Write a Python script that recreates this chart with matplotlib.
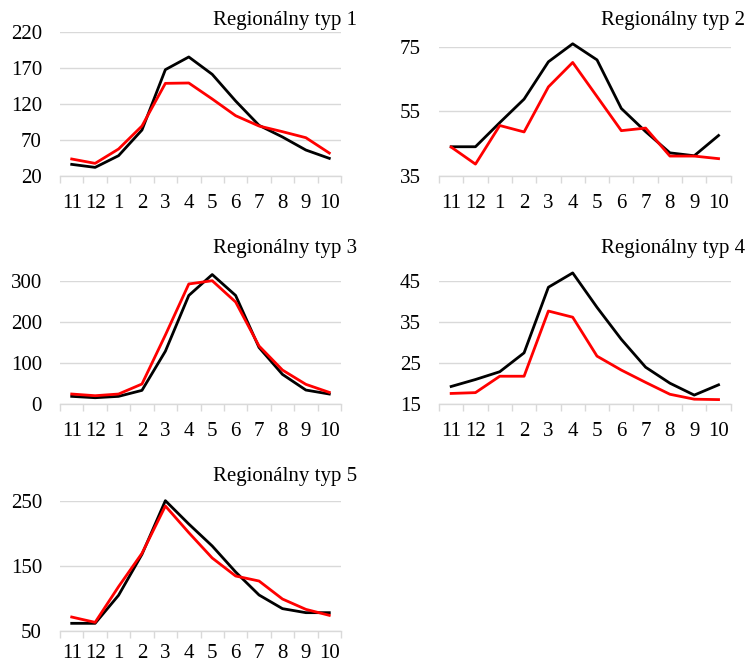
import matplotlib
matplotlib.use("Agg")
import matplotlib.pyplot as plt
import numpy as np

months = ["11", "12", "1", "2", "3", "4", "5", "6", "7", "8", "9", "10"]

titles = ["Regionálny typ 1", "Regionálny typ 2", "Regionálny typ 3",
          "Regionálny typ 4", "Regionálny typ 5"]

black_1 = [35.8, 31.6, 47.9, 83.7, 167.9, 185.6, 161.4, 124.2, 90.2, 74.0, 55.8, 44.2]
red_1 = [43.3, 37.2, 57.2, 89.3, 148.8, 149.3, 127.0, 103.7, 89.3, 81.4, 73.0, 51.6]

black_2 = [44.0, 44.0, 51.5, 58.8, 70.4, 76.0, 71.0, 55.9, 48.7, 42.1, 41.2, 47.5]
red_2 = [43.9, 38.6, 50.6, 48.6, 62.6, 70.2, 59.6, 49.0, 49.8, 41.1, 41.1, 40.3]

black_3 = [17.9, 14.6, 17.9, 32.5, 128, 264, 315, 264, 137, 71.5, 33.3, 23.6]
red_3 = [23.6, 19.5, 23.6, 48, 167.5, 292, 300, 248, 140.7, 82.1, 47.2, 27.6]

black_4 = [19.2, 20.9, 22.8, 27.4, 43.4, 46.9, 38.5, 30.7, 23.9, 20.0, 17.1, 19.6]
red_4 = [17.5, 17.7, 21.7, 21.7, 37.6, 36.1, 26.6, 23.2, 20.2, 17.3, 16.1, 16.0]

black_5 = [61.8, 61.8, 104.9, 167.9, 250.5, 214.6, 180.8, 140.8, 105.4, 84.4, 78.2, 78.2]
red_5 = [71.5, 63.3, 118.2, 169.5, 242.3, 201.3, 162.3, 134.6, 126.9, 99.2, 83.3, 74.1]

yticks_1 = [20, 70, 120, 170, 220]
yticks_2 = [35, 55, 75]
yticks_3 = [0, 100, 200, 300]
yticks_4 = [15, 25, 35, 45]
yticks_5 = [50, 150, 250]

series = [(black_1, red_1, yticks_1), (black_2, red_2, yticks_2),
          (black_3, red_3, yticks_3), (black_4, red_4, yticks_4),
          (black_5, red_5, yticks_5)]

W, H = 748, 665
fig = plt.figure(figsize=(W / 100, H / 100), dpi=100)
plt.rcParams['font.family'] = ['Liberation Serif', 'DejaVu Serif']

# axes boxes in pixels: left, right, top, bottom
boxes = [(60, 341, 32.3, 175.7),
         (439, 730.7, 47, 175.7),
         (60, 341, 280.7, 403.7),
         (439, 730.7, 280.7, 403.7),
         (60, 341, 501, 631)]
title_pos = [(357, 21), (745, 21), (357, 248), (745, 248), (357, 477)]
xpads = [13, 13, 13, 13, 9]

grid_c = "#d9d9d9"
for (blk, red, yt), (l, r, t, b), title, (tx, ty), xp in zip(series, boxes, titles, title_pos, xpads):
    ax = fig.add_axes([l / W, 1 - b / H, (r - l) / W, (b - t) / H])
    x = np.arange(len(months))
    ax.plot(x, blk, color="black", lw=2.0, clip_on=False, zorder=3)
    ax.plot(x, red, color="#ff0000", lw=2.0, clip_on=False, zorder=4)
    ax.set_xlim(-0.5, len(months) - 0.5)
    ax.set_ylim(yt[0], yt[-1])
    ax.set_yticks(yt)
    ax.set_yticklabels([str(v) for v in yt], fontsize=15)
    ax.set_xticks(x)
    ax.set_xticklabels(months, fontsize=15)
    ax.set_xticks(np.arange(len(months) + 1) - 0.5, minor=True)
    ax.tick_params(axis="x", which="major", length=0, pad=xp)
    ax.tick_params(axis="x", which="minor", length=5, color=grid_c, width=1)
    ax.tick_params(axis="y", length=0, pad=13)
    for s in ["top", "right", "left"]:
        ax.spines[s].set_visible(False)
    ax.spines["bottom"].set_color(grid_c)
    ax.spines["bottom"].set_linewidth(1)
    ax.yaxis.grid(True, color=grid_c, lw=1)
    ax.set_axisbelow(True)
    fig.text(tx / W, 1 - ty / H, title, ha="right", va="center", fontsize=15)

fig.savefig("out.png", dpi=100)
